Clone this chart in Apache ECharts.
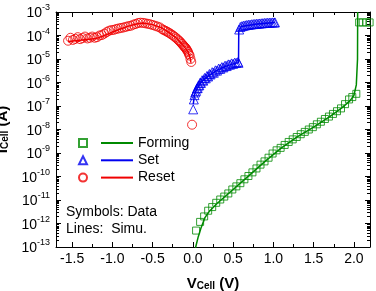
<!DOCTYPE html>
<html>
<head>
<meta charset="utf-8">
<script src="https://cdn.jsdelivr.net/npm/echarts@6/dist/echarts.min.js"></script>
<style>
  html, body { margin: 0; padding: 0; background: #fff; }
  #chart { width: 376px; height: 291px; }
</style>
</head>
<body>
<div id="chart"></div>
<script>
// measured data (symbols)
const formingV = [0.04, 0.09, 0.14, 0.19, 0.24, 0.29, 0.34, 0.39, 0.44, 0.49, 0.54, 0.59, 0.64, 0.69,
  0.74, 0.79, 0.84, 0.89, 0.94, 0.99, 1.04, 1.09, 1.14, 1.19, 1.24, 1.29, 1.34, 1.39, 1.44, 1.49,
  1.54, 1.59, 1.64, 1.69, 1.74, 1.79, 1.84, 1.89, 1.94, 1.98, 2.03, 2.065, 2.11, 2.155, 2.195];
const formingI = [5.0e-13, 1.17e-12, 2.0e-12, 3.5e-12, 5.0e-12, 7.6e-12, 1.05e-11, 1.4e-11, 1.9e-11,
  2.8e-11, 3.8e-11, 5.2e-11, 7.6e-11, 1.05e-10, 1.5e-10, 2.2e-10, 3.2e-10, 4.4e-10, 6.3e-10, 9.5e-10,
  1.3e-9, 1.65e-9, 2.2e-9, 2.95e-9, 3.8e-9, 4.8e-9, 6.3e-9, 7.9e-9, 1.0e-8, 1.26e-8, 1.66e-8, 2.14e-8,
  2.8e-8, 3.55e-8, 4.6e-8, 6.0e-8, 7.9e-8, 1.2e-7, 1.9e-7, 2.4e-7, 3.3e-7, 3.6e-4, 3.6e-4, 3.6e-4, 3.6e-4];

const setV = [0.004, 0.012, 0.02, 0.03, 0.04, 0.05, 0.06, 0.07, 0.08, 0.09, 0.10, 0.115, 0.13, 0.145,
  0.16, 0.175, 0.19, 0.205, 0.22, 0.24, 0.26, 0.28, 0.30, 0.32, 0.34, 0.36, 0.38, 0.40, 0.42, 0.44,
  0.46, 0.48, 0.50, 0.52, 0.54, 0.56, 0.567,
  0.575, 0.59, 0.61, 0.63, 0.65, 0.67, 0.69, 0.71, 0.73, 0.75, 0.77, 0.79, 0.81, 0.83, 0.85, 0.87,
  0.89, 0.91, 0.93, 0.95, 0.97, 0.99, 1.01, 1.02];
const setI = [7.2e-8, 1.9e-7, 2.9e-7, 3.8e-7, 4.4e-7, 5.6e-7, 5.8e-7, 7.5e-7, 7.6e-7, 9.8e-7, 9.6e-7,
  1.25e-6, 1.2e-6, 1.55e-6, 1.5e-6, 1.9e-6, 1.8e-6, 2.3e-6, 2.2e-6, 2.75e-6, 2.6e-6, 3.3e-6, 3.2e-6,
  3.9e-6, 3.8e-6, 4.5e-6, 4.4e-6, 5.2e-6, 5.0e-6, 5.9e-6, 5.7e-6, 6.5e-6, 6.2e-6, 7.0e-6, 6.8e-6,
  7.4e-6, 6.9e-6,
  1.8e-4, 2.3e-4, 2.5e-4, 2.6e-4, 2.7e-4, 2.8e-4, 2.85e-4, 2.9e-4, 3.0e-4, 3.05e-4, 3.1e-4, 3.15e-4,
  3.2e-4, 3.25e-4, 3.3e-4, 3.35e-4, 3.4e-4, 3.45e-4, 3.5e-4, 3.5e-4, 3.55e-4, 3.6e-4, 3.6e-4, 3.6e-4];

const resetV = [-0.01, -0.02, -0.03, -0.04, -0.05, -0.06, -0.07, -0.08, -0.09, -0.10, -0.11, -0.12,
  -0.135, -0.15, -0.165, -0.18, -0.20, -0.22, -0.24, -0.26, -0.28, -0.30, -0.32, -0.34, -0.36, -0.38,
  -0.41, -0.44, -0.47, -0.50, -0.53, -0.56, -0.59, -0.62, -0.65, -0.68, -0.71, -0.74, -0.77, -0.80,
  -0.83, -0.86, -0.89, -0.92, -0.95, -0.98, -1.01, -1.04, -1.07, -1.10, -1.13, -1.16, -1.19, -1.22,
  -1.25, -1.28, -1.31, -1.34, -1.37, -1.40, -1.43, -1.46, -1.49, -1.52, -1.55];
const resetI = [1.6e-8, 7.5e-6, 1.0e-5, 1.4e-5, 1.65e-5, 2.0e-5, 2.3e-5, 2.6e-5, 2.95e-5, 3.2e-5, 3.5e-5,
  3.8e-5, 4.4e-5, 5.0e-5, 5.7e-5, 6.4e-5, 7.4e-5, 8.5e-5, 9.6e-5, 1.08e-4, 1.2e-4, 1.32e-4, 1.45e-4,
  1.58e-4, 1.7e-4, 1.85e-4, 2.2e-4, 2.4e-4, 2.6e-4, 2.8e-4, 3.0e-4, 3.15e-4, 3.3e-4, 3.45e-4, 3.5e-4,
  3.4e-4, 3.1e-4, 2.9e-4, 2.6e-4, 2.5e-4, 2.35e-4, 2.2e-4, 2.1e-4, 2.0e-4, 1.9e-4, 1.75e-4, 1.7e-4,
  1.6e-4, 1.4e-4, 1.2e-4, 1.05e-4, 1.0e-4, 8.5e-5, 8.0e-5, 9.0e-5, 8.0e-5, 7.5e-5, 9.0e-5, 7.8e-5,
  7.0e-5, 8.5e-5, 7.2e-5, 6.5e-5, 8.0e-5, 6.0e-5];

// simulation (lines)
const formingSimV = [0.03, 0.035, 0.067, 0.1, 0.15, 0.2, 0.3, 0.5, 0.7, 0.9, 1.1, 1.3, 1.5, 1.7,
  1.85, 1.95, 2.0, 2.03, 2.045, 2.047];
const formingSimI = [5e-14, 1e-13, 2.75e-13, 6.3e-13, 1.78e-12, 3.16e-12, 7.1e-12, 2.8e-11, 1.12e-10,
  4.5e-10, 1.66e-9, 5.0e-9, 1.26e-8, 3.55e-8, 8.3e-8, 1.66e-7, 2.8e-7, 7.9e-7, 1e-5, 1e-3];

const setSimV = [0.005, 0.02, 0.05, 0.1, 0.2, 0.3, 0.4, 0.5, 0.567, 0.57, 0.6, 0.8, 1.02];
const setSimI = [1.2e-7, 3.0e-7, 5.5e-7, 1.0e-6, 2.0e-6, 3.3e-6, 4.8e-6, 6.2e-6, 7.0e-6, 1.6e-4,
  2.4e-4, 3.1e-4, 3.55e-4];

const resetSimV = [-1.55, -1.4, -1.2, -1.1, -1.0, -0.9, -0.8, -0.7, -0.62, -0.5, -0.4, -0.3, -0.2,
  -0.12, -0.06, -0.03, -0.025];
const resetSimI = [5.5e-5, 6.3e-5, 7.5e-5, 1.0e-4, 1.4e-4, 1.9e-4, 2.5e-4, 3.1e-4, 3.4e-4, 2.9e-4,
  2.2e-4, 1.35e-4, 7.5e-5, 3.8e-5, 2.0e-5, 1.0e-5, 6.9e-6];

const seriesNames = ['Forming', 'Set', 'Reset'];
const dataNames = ['Forming data', 'Set data', 'Reset data'];
const colors = ['#008a00', '#0000f0', '#f00000'];

const FONT = '"Liberation Sans", Arial, sans-serif';

// minor log ticks 2..9 per decade
const minorLogTicks = [];
for (let e = -13; e < -3; e++) {
  for (let k = 2; k <= 9; k++) minorLogTicks.push(+(k * Math.pow(10, e)).toPrecision(3));
}

function pairs(xs, ys) {
  return xs.map((x, i) => [x, ys[i]]);
}

const chart = echarts.init(document.getElementById('chart'), null, { renderer: 'canvas' });

const xBase = {
  type: 'value',
  min: -1.7,
  max: 2.2,
  splitNumber: 8,
  splitLine: { show: false },
  axisLine: { show: true, onZero: false, lineStyle: { color: '#000', width: 1 } },
  axisTick: { show: true, inside: true, length: 5, lineStyle: { color: '#000' } },
  minorTick: { show: true, splitNumber: 2, length: 3, lineStyle: { color: '#000' } },
  minorSplitLine: { show: false }
};

const yBase = {
  type: 'log',
  logBase: 10,
  min: 1e-13,
  max: 1e-3,
  interval: 1,
  splitLine: { show: false },
  axisLine: { show: true, onZero: false, lineStyle: { color: '#000', width: 1 } },
  axisTick: { show: true, inside: true, length: 5, lineStyle: { color: '#000' } },
  axisLabel: { show: false }
};

const yMinor = {
  type: 'log',
  logBase: 10,
  min: 1e-13,
  max: 1e-3,
  splitLine: { show: false },
  axisLine: { show: false, onZero: false },
  axisTick: { show: true, inside: true, length: 3, customValues: minorLogTicks, lineStyle: { color: '#000' } },
  axisLabel: { show: false }
};

const option = {
  animation: false,
  backgroundColor: '#fff',
  grid: { left: 56, right: 6, top: 12, bottom: 44, containLabel: false, outerBoundsMode: 'none' },
  xAxis: [
    Object.assign({}, xBase, {
      position: 'bottom',
      axisLabel: {
        show: true, showMinLabel: false, showMaxLabel: false, margin: 5,
        color: '#000', fontSize: 14, fontFamily: FONT,
        formatter: (v) => v.toFixed(1)
      },
      name: '{m|V}{s|Cell}{m| (V)}',
      nameLocation: 'middle',
      nameGap: 28,
      nameTextStyle: {
        color: '#000', fontFamily: FONT, fontWeight: 'bold',
        rich: {
          m: { fontSize: 15, fontWeight: 'bold', fontFamily: FONT, color: '#000', lineHeight: 16, verticalAlign: 'bottom' },
          s: { fontSize: 10, fontWeight: 'bold', fontFamily: FONT, color: '#000', lineHeight: 12, verticalAlign: 'bottom' }
        }
      }
    }),
    Object.assign({}, xBase, { position: 'top', axisLabel: { show: false } })
  ],
  yAxis: [
    Object.assign({}, yBase, {
      position: 'left',
      axisLabel: {
        show: true, margin: 6, color: '#000', fontFamily: FONT,
        formatter: (v) => '{b|10}{s|' + Math.round(Math.log10(v)) + '}',
        rich: {
          b: { fontSize: 14, fontFamily: FONT, color: '#000', lineHeight: 17, verticalAlign: 'bottom' },
          s: { fontSize: 9, fontFamily: FONT, color: '#000', lineHeight: 17, verticalAlign: 'top' }
        }
      },
      name: '{m|I}{s|Cell}{m| (A)}',
      nameLocation: 'middle',
      nameRotate: 90,
      nameGap: 38,
      nameTextStyle: {
        color: '#000', fontFamily: FONT, fontWeight: 'bold',
        rich: {
          m: { fontSize: 15, fontWeight: 'bold', fontFamily: FONT, color: '#000', lineHeight: 16, verticalAlign: 'bottom' },
          s: { fontSize: 10, fontWeight: 'bold', fontFamily: FONT, color: '#000', lineHeight: 12, verticalAlign: 'bottom' }
        }
      }
    }),
    Object.assign({}, yBase, { position: 'right' }),
    Object.assign({}, yMinor, { position: 'left' }),
    Object.assign({}, yMinor, { position: 'right' })
  ],
  legend: [
    {
      // symbols column
      orient: 'vertical', left: 78, top: 136, padding: 0,
      itemWidth: 8, itemHeight: 8, itemGap: 3.3,
      data: dataNames,
      formatter: () => ' ',
      textStyle: { fontSize: 14, lineHeight: 14, fontFamily: FONT },
      selectedMode: false
    },
    {
      // lines column
      orient: 'vertical', left: 101, top: 136, padding: 0,
      icon: 'rect', itemWidth: 32, itemHeight: 2, itemGap: 3.3,
      data: seriesNames,
      textStyle: { fontSize: 14, lineHeight: 14, color: '#000', fontFamily: FONT },
      selectedMode: false
    }
  ],
  graphic: [
    { type: 'text', left: 66, top: 205, style: { text: 'Symbols: Data', fontSize: 14, fontFamily: FONT, fill: '#000' } },
    { type: 'text', left: 66, top: 222, style: { text: 'Lines:  Simu.', fontSize: 14, fontFamily: FONT, fill: '#000' } }
  ],
  series: [
    {
      name: seriesNames[0], type: 'line', data: pairs(formingSimV, formingSimI),
      symbol: 'none', showSymbol: false, lineStyle: { color: colors[0], width: 1.5 }, itemStyle: { color: colors[0] }, z: 2
    },
    {
      name: seriesNames[1], type: 'line', data: pairs(setSimV, setSimI),
      symbol: 'none', showSymbol: false, lineStyle: { color: colors[1], width: 1.5 }, itemStyle: { color: colors[1] }, z: 2
    },
    {
      name: seriesNames[2], type: 'line', data: pairs(resetSimV, resetSimI),
      symbol: 'none', showSymbol: false, lineStyle: { color: colors[2], width: 1.5 }, itemStyle: { color: colors[2] }, z: 2
    },
    {
      name: dataNames[0], type: 'scatter', data: pairs(formingV, formingI),
      symbol: 'rect', symbolSize: 7,
      itemStyle: { color: 'rgba(0,0,0,0)', borderColor: colors[0], borderWidth: 1 }, z: 3
    },
    {
      name: dataNames[1], type: 'scatter', data: pairs(setV, setI),
      symbol: 'triangle', symbolSize: 9,
      itemStyle: { color: 'rgba(0,0,0,0)', borderColor: colors[1], borderWidth: 1 }, z: 3
    },
    {
      name: dataNames[2], type: 'scatter', data: pairs(resetV, resetI),
      symbol: 'circle', symbolSize: 9,
      itemStyle: { color: 'rgba(0,0,0,0)', borderColor: colors[2], borderWidth: 1 }, z: 3
    }
  ]
};

chart.setOption(option);
</script>
</body>
</html>
